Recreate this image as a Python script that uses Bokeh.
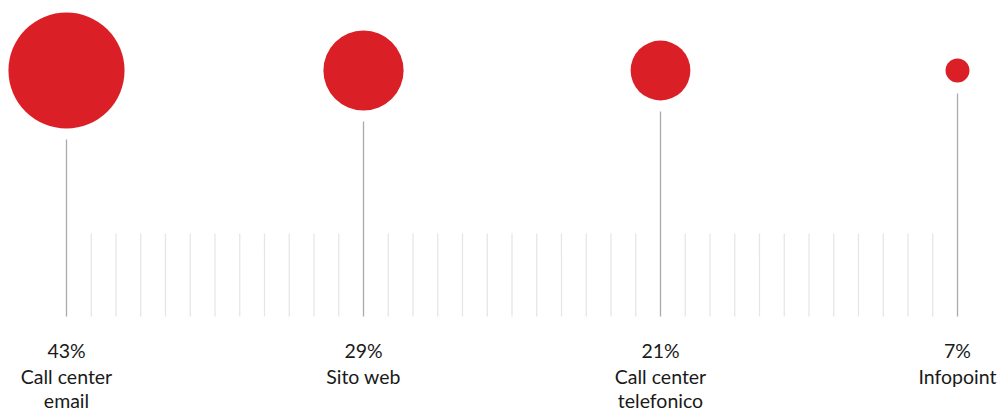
from bokeh.plotting import figure
from bokeh.models import Range1d, ColumnDataSource
from bokeh.core.properties import value
from bokeh.embed import file_html
from bokeh.resources import INLINE

# data
categories = ["Call center email", "Sito web", "Call center telefonico", "Infopoint"]
shares = [43, 29, 21, 7]
label_line1 = ["Call center", "Sito web", "Call center", "Infopoint"]
label_line2 = ["email", "", "telefonico", ""]
pct_labels = [f"{v}%" for v in shares]

# layout constants
STEP = 12                 # minor tick intervals between categories
PX_PER_UNIT = 24.75
W, H = 997, 412
x_start = -66 / PX_PER_UNIT
x_end = x_start + W / PX_PER_UNIT

RED = "#db1f26"
CY = 70                   # circle centre (screen px from top)
BASE = 316                # baseline of stems
MINOR_TOP = 233

xs = [i * STEP for i in range(len(categories))]
radii = [3.0 + 1.28 * v for v in shares]
stem_top = [CY + r + 11 for r in radii]

p = figure(width=W, height=H, output_backend="svg", toolbar_location=None,
           x_range=Range1d(x_start, x_end), y_range=Range1d(H, 0),
           min_border=0)
p.axis.visible = False
p.grid.visible = False
p.outline_line_color = None
p.background_fill_color = "white"
p.border_fill_color = "white"

# minor ticks
minor_x = [i for i in range(0, STEP * (len(categories) - 1) + 1) if i % STEP != 0]
p.segment(x0=minor_x, y0=[MINOR_TOP] * len(minor_x), x1=minor_x, y1=[BASE] * len(minor_x),
          line_color="#e6e6e6", line_width=1.3)

src = ColumnDataSource(dict(x=xs, r=radii, top=stem_top, base=[BASE] * len(xs),
                            cy=[CY] * len(xs), pct=pct_labels, l1=label_line1, l2=label_line2))

p.segment(x0="x", y0="top", x1="x", y1="base", source=src, line_color="#aaaaaa", line_width=1.3)
p.circle(x="x", y="cy", radius="r", radius_units="screen", source=src,
         fill_color=RED, line_color=None)

font = value("Lato")
common = dict(source=src, text_align="center", text_baseline="middle", text_font=font,
              text_font_size="19.5px", text_color="#1a1a1a")
p.text(x="x", y=350, text="pct", **common)
p.text(x="x", y=376, text="l1", **common)
p.text(x="x", y=400, text="l2", **common)

open("out.html", "w").write(file_html(p, INLINE))
